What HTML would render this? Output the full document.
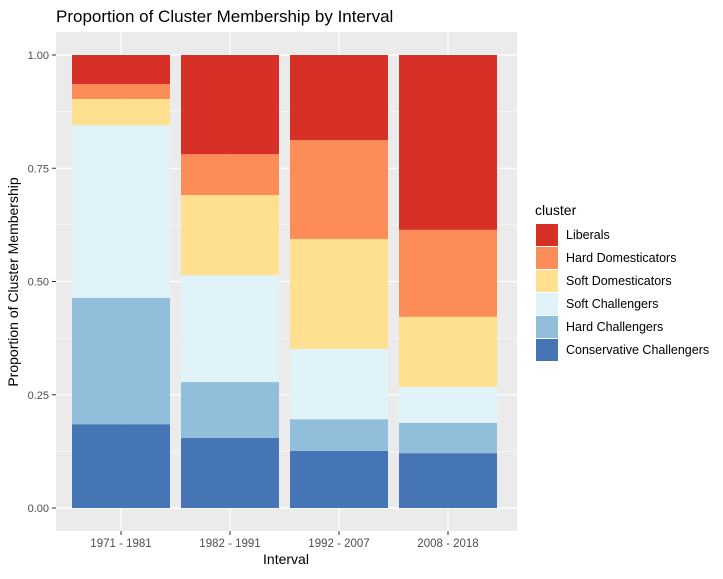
<!DOCTYPE html>
<html><head><meta charset="utf-8"><style>
body{margin:0;background:#fff;font-family:"Liberation Sans",Arial,sans-serif;}
</style></head><body>
<svg id="chart" width="723" height="574" xmlns="http://www.w3.org/2000/svg">
<text x="56" y="22" font-size="17" fill="#000">Proportion of Cluster Membership by Interval</text>
<rect x="56" y="32" width="461" height="499" fill="#EBEBEB"/>
<g id="grid"></g><g id="bars"></g><g id="axes"></g><g id="legend"></g>
<text x="286" y="564" font-size="14" text-anchor="middle" fill="#000">Interval</text>
<text transform="translate(18,282) rotate(-90)" font-size="14" text-anchor="middle" fill="#000">Proportion of Cluster Membership</text>
</svg>
<script>
const categories=["1971 - 1981","1982 - 1991","1992 - 2007","2008 - 2018"];
const seriesNames=["Conservative Challengers","Hard Challengers","Soft Challengers","Soft Domesticators","Hard Domesticators","Liberals"];
const conservative=[0.185,0.155,0.126,0.121];
const hardChallengers=[0.279,0.123,0.070,0.067];
const softChallengers=[0.381,0.236,0.155,0.079];
const softDomesticators=[0.058,0.177,0.243,0.155];
const hardDomesticators=[0.033,0.090,0.218,0.192];
const liberals=[0.064,0.219,0.188,0.386];
const yTicks=[0,0.25,0.5,0.75,1];
const yTickLabels=["0.00","0.25","0.50","0.75","1.00"];
const colors=["#4575B4","#91BFDB","#E0F3F8","#FEE090","#FC8D59","#D73027"];
const series=[conservative,hardChallengers,softChallengers,softDomesticators,hardDomesticators,liberals];
const NS="http://www.w3.org/2000/svg";
const y=v=>508-v*453;
const xc=i=>121+i*109;
const bw=98;
function mk(tag,attrs,parent){const e=document.createElementNS(NS,tag);for(const k in attrs)e.setAttribute(k,attrs[k]);parent.appendChild(e);return e;}
const grid=document.getElementById('grid'),bars=document.getElementById('bars'),axes=document.getElementById('axes'),legend=document.getElementById('legend');
for(let i=0;i<yTicks.length-1;i++){const l=mk('line',{x1:56,x2:517,y1:y((yTicks[i]+yTicks[i+1])/2),y2:y((yTicks[i]+yTicks[i+1])/2),stroke:'#fff','stroke-width':0.6},grid);

}
yTicks.forEach((t,i)=>{const l=mk('line',{x1:56,x2:517,y1:y(t),y2:y(t),stroke:'#fff','stroke-width':1.2},grid);


const tk=mk('line',{x1:52,x2:56,y1:y(t),y2:y(t),stroke:'#333','stroke-width':1},axes);


const tx=mk('text',{x:49,y:y(t)+4,'font-size':11,'text-anchor':'end',fill:'#4D4D4D'},axes);tx.textContent=yTickLabels[i];

});
categories.forEach((c,i)=>{const l=mk('line',{x1:xc(i),x2:xc(i),y1:32,y2:531,stroke:'#fff','stroke-width':1.2},grid);


let cum=0;
series.forEach((s,j)=>{const v=s[i];const r=mk('rect',{x:xc(i)-bw/2,y:y(cum+v),width:bw,height:v*453,fill:colors[j]},bars);

cum+=v;});
const tk=mk('line',{x1:xc(i),x2:xc(i),y1:531,y2:535,stroke:'#333'},axes);


const tx=mk('text',{x:xc(i),y:547,'font-size':11.5,'text-anchor':'middle',fill:'#4D4D4D'},axes);tx.textContent=c;

});
const lt=mk('text',{x:535,y:215,'font-size':14,fill:'#000'},legend);lt.textContent='cluster';


for(let k=0;k<6;k++){const j=5-k;const yy=224+k*23;
const r=mk('rect',{x:536,y:yy,width:22,height:22,fill:colors[j]},legend);


const t=mk('text',{x:566,y:yy+15,'font-size':12.5,fill:'#000'},legend);t.textContent=seriesNames[j];

}
</script>
</body></html>
